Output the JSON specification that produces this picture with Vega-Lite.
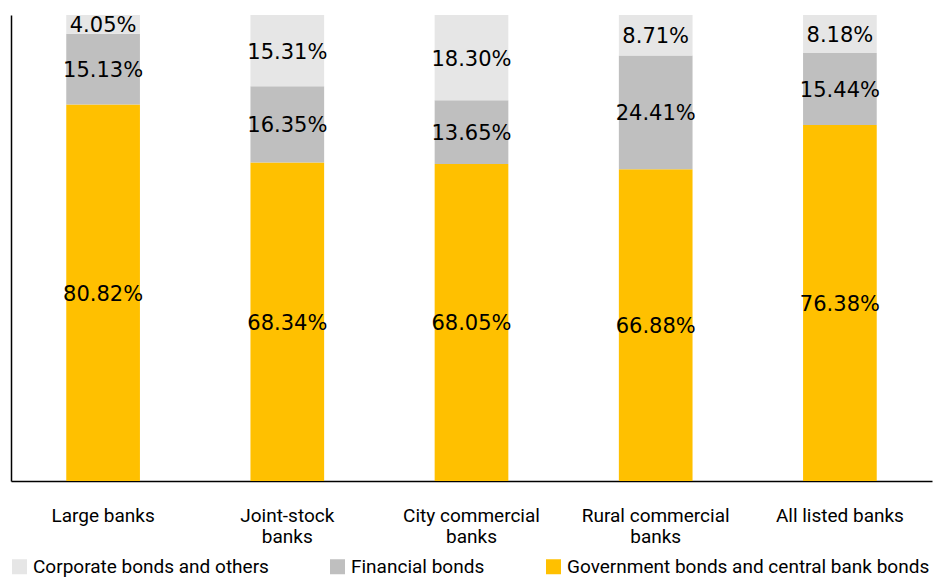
{
  "$schema": "https://vega.github.io/schema/vega-lite/v6.json",
  "width": 921,
  "height": 466,
  "autosize": {"type": "none"},
  "padding": {"left": 11, "top": 15, "right": 7, "bottom": 96},
  "background": "white",
  "config": {"view": {"stroke": null}, "font": "Roboto"},
  "data": {
    "values": [
      {"bank": "Large banks", "category": "Government bonds and central bank bonds", "value": 80.82, "order": 1},
      {"bank": "Large banks", "category": "Financial bonds", "value": 15.13, "order": 2},
      {"bank": "Large banks", "category": "Corporate bonds and others", "value": 4.05, "order": 3},
      {"bank": "Joint-stock|banks", "category": "Government bonds and central bank bonds", "value": 68.34, "order": 1},
      {"bank": "Joint-stock|banks", "category": "Financial bonds", "value": 16.35, "order": 2},
      {"bank": "Joint-stock|banks", "category": "Corporate bonds and others", "value": 15.31, "order": 3},
      {"bank": "City commercial|banks", "category": "Government bonds and central bank bonds", "value": 68.05, "order": 1},
      {"bank": "City commercial|banks", "category": "Financial bonds", "value": 13.65, "order": 2},
      {"bank": "City commercial|banks", "category": "Corporate bonds and others", "value": 18.30, "order": 3},
      {"bank": "Rural commercial|banks", "category": "Government bonds and central bank bonds", "value": 66.88, "order": 1},
      {"bank": "Rural commercial|banks", "category": "Financial bonds", "value": 24.41, "order": 2},
      {"bank": "Rural commercial|banks", "category": "Corporate bonds and others", "value": 8.71, "order": 3},
      {"bank": "All listed banks", "category": "Government bonds and central bank bonds", "value": 76.38, "order": 1},
      {"bank": "All listed banks", "category": "Financial bonds", "value": 15.44, "order": 2},
      {"bank": "All listed banks", "category": "Corporate bonds and others", "value": 8.18, "order": 3}
    ]
  },
  "transform": [
    {"stack": "value", "groupby": ["bank"], "sort": [{"field": "order", "order": "ascending"}], "as": ["v0", "v1"]},
    {"calculate": "(datum.v0 + datum.v1) / 2", "as": "mid"},
    {"calculate": "datum.value / 100", "as": "share"}
  ],
  "encoding": {
    "x": {
      "field": "bank",
      "type": "nominal",
      "sort": null,
      "scale": {"paddingInner": 0.6, "paddingOuter": 0.3},
      "axis": {
        "title": null,
        "labelAngle": 0,
        "ticks": false,
        "labelPadding": 25,
        "labelFontSize": 19,
        "labelColor": "#000000",
        "labelLineHeight": 21,
        "labelExpr": "split(datum.label, '|')",
        "labelLimit": 300,
        "domainColor": "#000000",
        "domainWidth": 1.5,
        "labelFont": "Roboto"
      }
    }
  },
  "layer": [
    {
      "mark": {"type": "bar"},
      "encoding": {
        "y": {
          "field": "v0",
          "type": "quantitative",
          "scale": {"domain": [0, 100], "nice": false},
          "axis": {"title": null, "labels": false, "ticks": false, "grid": false, "domainColor": "#000000", "domainWidth": 1.5}
        },
        "y2": {"field": "v1"},
        "color": {
          "field": "category",
          "type": "nominal",
          "scale": {
            "domain": ["Corporate bonds and others", "Financial bonds", "Government bonds and central bank bonds"],
            "range": ["#E6E6E6", "#BFBFBF", "#FFC000"]
          },
          "legend": {
            "title": null,
            "orient": "none",
            "direction": "horizontal",
            "legendX": -1,
            "legendY": 542,
            "symbolType": "square",
            "symbolSize": 225,
            "symbolStrokeWidth": 0,
            "symbolOpacity": 1,
            "labelFontSize": 19,
            "labelColor": "#000000",
            "labelFont": "Roboto",
            "labelOffset": 4,
            "labelLimit": 500,
            "columnPadding": 59
          }
        }
      }
    },
    {
      "mark": {"type": "text", "font": "DejaVu Sans", "fontSize": 21, "color": "#000000", "baseline": "middle", "align": "center", "dy": 2},
      "encoding": {
        "y": {"field": "mid", "type": "quantitative"},
        "text": {"field": "share", "type": "quantitative", "format": ".2%"}
      }
    }
  ]
}
